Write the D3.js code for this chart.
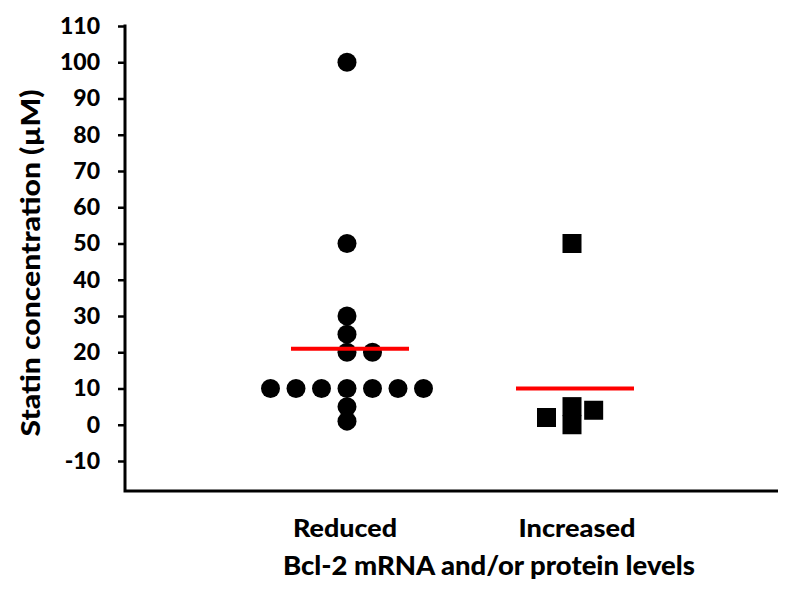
<!DOCTYPE html>
<html><head><meta charset="utf-8">
<script src="https://cdn.jsdelivr.net/npm/d3@7"></script>
<style>body{margin:0;background:#fff}svg{display:block}</style>
</head><body>
<script>
// ---- data ----
const categories = ["Reduced", "Increased"];
const reducedValues = [100, 50, 30, 25, 20, 20, 10, 10, 10, 10, 10, 10, 10, 5, 1];
const reducedSlots  = [0, 0, 0, 0, 0, 1, -3, -2, -1, 0, 1, 2, 3, 0, 0];
const increasedValues = [50, 2, 5, 0, 4];
const increasedSlots  = [0, -1, 0, 0, 0.85];
const meanValues = [21, 10];
const yTicks = [-10, 0, 10, 20, 30, 40, 50, 60, 70, 80, 90, 100, 110];

const W = 800, H = 594;
const svg = d3.select("body").append("svg").attr("width", W).attr("height", H);
const font = "Lato, 'Open Sans', sans-serif";

const y = d3.scaleLinear().domain([-10, 110]).range([461, 26]);
const yBottom = y(-18.3);
const x = d3.scalePoint().domain(categories).range([347, 572]);
const slotW = 25.5;

// axes
const yAxis = d3.axisLeft(y).tickValues(yTicks).tickSize(7).tickPadding(18).tickFormat(d => String(d));
const gy = svg.append("g").attr("transform", "translate(125,0)").call(yAxis);
gy.select(".domain").remove();
gy.selectAll(".tick line").attr("stroke", "#000").attr("stroke-width", 2.5);
gy.selectAll(".tick text").attr("font-family", font).attr("font-weight", "900")
  .attr("font-size", 23).attr("fill", "#000");
svg.append("path").attr("d", `M125,${y(110)-1.5}V${yBottom}H778`)
  .attr("fill", "none").attr("stroke", "#000").attr("stroke-width", 3);

// category labels
const catLen = [104, 117];
const catX = [345, 577];
svg.selectAll(".cat").data(categories).enter().append("text")
  .attr("x", (d, i) => catX[i]).attr("y", 537)
  .attr("text-anchor", "middle").attr("font-family", font).attr("font-weight", "900")
  .attr("font-size", 24).attr("textLength", (d, i) => catLen[i])
  .attr("lengthAdjust", "spacingAndGlyphs").text(d => d);

// axis titles
svg.append("text").attr("x", 489).attr("y", 575).attr("text-anchor", "middle")
  .attr("font-family", font).attr("font-weight", "900").attr("font-size", 26)
  .attr("textLength", 412).attr("lengthAdjust", "spacingAndGlyphs")
  .text("Bcl-2 mRNA and/or protein levels");
svg.append("text").attr("transform", `translate(40,263) rotate(-90)`)
  .attr("text-anchor", "middle").attr("font-family", font).attr("font-weight", "900")
  .attr("font-size", 27).attr("textLength", 347).attr("lengthAdjust", "spacingAndGlyphs")
  .text("Statin concentration (\u00B5M)");

// reduced: circles
svg.selectAll(".dot").data(reducedValues).enter().append("circle")
  .attr("cx", (d, i) => x("Reduced") + reducedSlots[i] * slotW)
  .attr("cy", d => y(d)).attr("r", 9.5).attr("fill", "#000");

// increased: squares
const s = 19;
svg.selectAll(".sq").data(increasedValues).enter().append("rect")
  .attr("x", (d, i) => x("Increased") + increasedSlots[i] * slotW - s / 2)
  .attr("y", d => y(d) - s / 2).attr("width", s).attr("height", s).attr("fill", "#000");

// mean lines
svg.selectAll(".mean").data(meanValues).enter().append("line")
  .attr("x1", (d, i) => x(categories[i]) - 56).attr("x2", (d, i) => x(categories[i]) + 62)
  .attr("y1", d => y(d)).attr("y2", d => y(d))
  .attr("stroke", "#ff0000").attr("stroke-width", 4);
</script>
</body></html>
